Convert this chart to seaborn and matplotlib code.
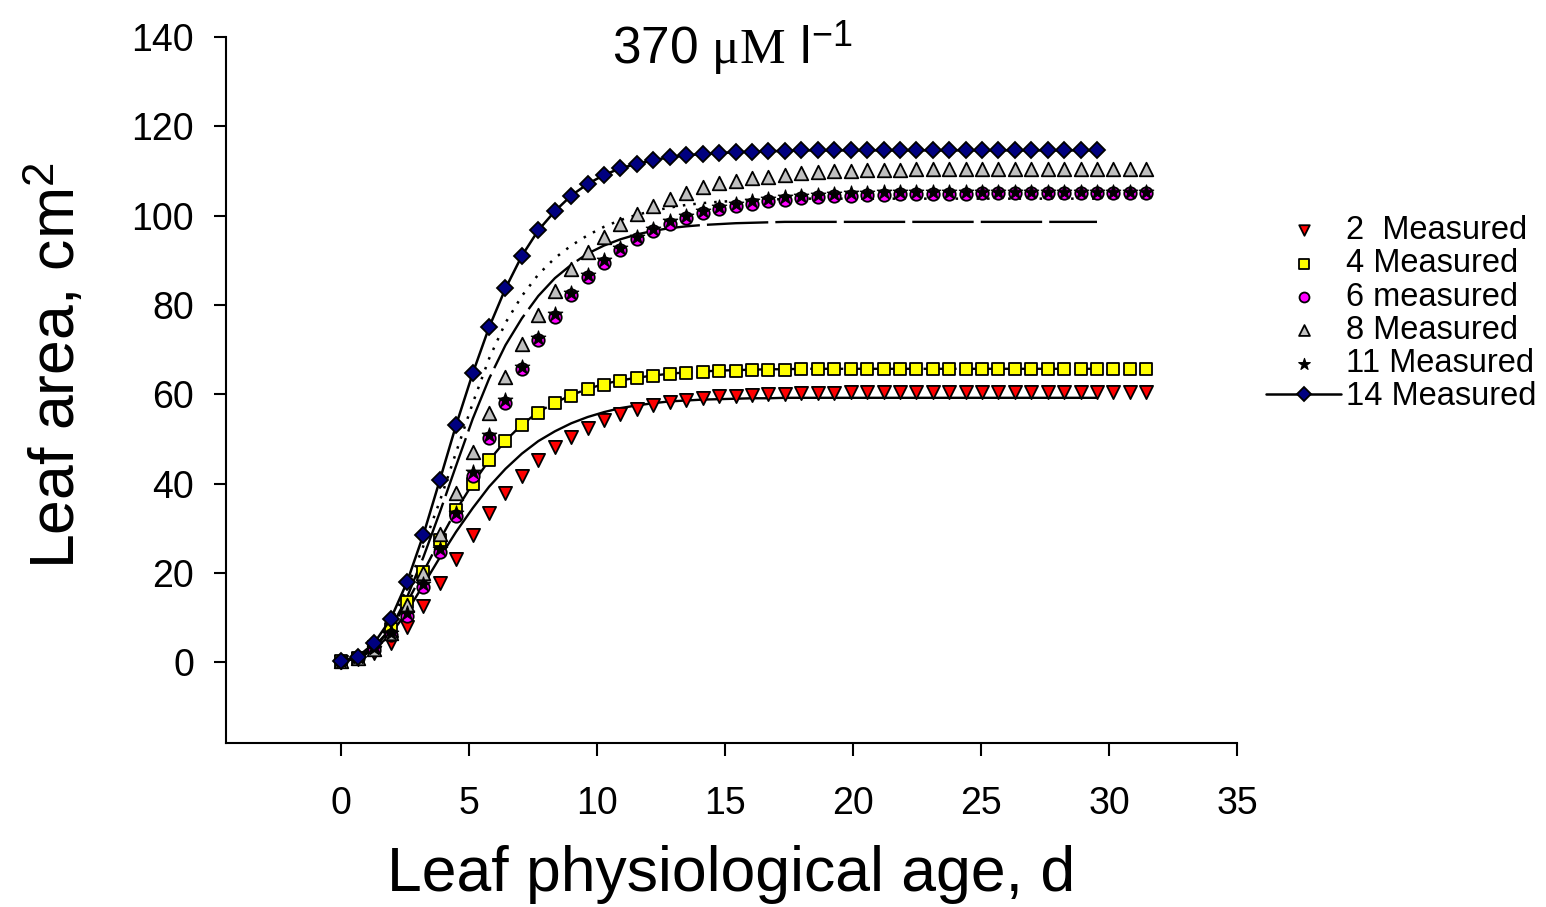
import matplotlib
matplotlib.use("Agg")
import matplotlib.pyplot as plt
import seaborn as sns

# ---------------- data ----------------
age = [0.00, 0.64, 1.28, 1.93, 2.57, 3.21, 3.85, 4.49, 5.14, 5.78,
       6.42, 7.06, 7.70, 8.35, 8.99, 9.63, 10.27, 10.91, 11.56, 12.20,
       12.84, 13.48, 14.12, 14.77, 15.41, 16.05, 16.69, 17.33, 17.98, 18.62,
       19.26, 19.90, 20.54, 21.19, 21.83, 22.47, 23.11, 23.75, 24.40, 25.04,
       25.68, 26.32, 26.96, 27.61, 28.25, 28.89, 29.53, 30.17, 30.82, 31.46]

m2 = [0.1, 0.6, 2.0, 4.4, 7.9, 12.6, 17.8, 23.2, 28.4, 33.4,
      37.8, 41.8, 45.2, 48.1, 50.5, 52.5, 54.2, 55.6, 56.7, 57.6,
      58.3, 58.8, 59.2, 59.5, 59.7, 59.9, 60.0, 60.1, 60.2, 60.3,
      60.3, 60.4, 60.4, 60.4, 60.5, 60.5, 60.5, 60.5, 60.5, 60.5,
      60.5, 60.5, 60.5, 60.5, 60.5, 60.5, 60.5, 60.5, 60.5, 60.5]

m4 = [0.2, 1.0, 3.3, 7.4, 13.4, 20.2, 27.3, 34.0, 40.0, 45.3,
      49.5, 53.1, 55.8, 58.0, 59.7, 61.1, 62.1, 63.0, 63.6, 64.1,
      64.5, 64.8, 65.0, 65.2, 65.3, 65.4, 65.5, 65.5, 65.6, 65.6,
      65.6, 65.7, 65.7, 65.7, 65.7, 65.7, 65.7, 65.7, 65.7, 65.7,
      65.7, 65.7, 65.7, 65.7, 65.7, 65.7, 65.7, 65.7, 65.7, 65.7]

m6 = [0.2, 0.9, 2.8, 6.0, 10.4, 16.9, 24.6, 32.7, 41.8, 50.2,
      58.1, 65.6, 72.1, 77.4, 82.2, 86.3, 89.5, 92.3, 94.7, 96.6,
      98.2, 99.4, 100.5, 101.4, 102.1, 102.7, 103.2, 103.6, 103.9, 104.2,
      104.4, 104.5, 104.6, 104.7, 104.8, 104.8, 104.9, 104.9, 104.9, 105.0,
      105.0, 105.0, 105.0, 105.0, 105.0, 105.0, 105.0, 105.0, 105.0, 105.0]

m8 = [0.2, 0.9, 3.0, 6.6, 12.9, 19.9, 28.8, 37.8, 47.0, 55.7,
      63.9, 71.2, 77.7, 83.2, 88.1, 91.9, 95.3, 98.1, 100.4, 102.2,
      103.7, 105.1, 106.3, 107.2, 107.8, 108.4, 108.7, 109.1, 109.5, 109.7,
      109.9, 110.1, 110.2, 110.3, 110.3, 110.4, 110.4, 110.4, 110.4, 110.4,
      110.4, 110.4, 110.4, 110.4, 110.4, 110.4, 110.4, 110.4, 110.4, 110.4]

m11 = [0.3, 1.1, 3.2, 6.6, 11.0, 17.5, 25.3, 33.4, 42.5, 50.9,
       58.8, 66.2, 72.6, 77.9, 82.7, 86.8, 90.0, 92.8, 95.2, 97.1,
       98.7, 99.9, 101.0, 101.9, 102.6, 103.2, 103.7, 104.1, 104.4, 104.7,
       104.9, 105.0, 105.1, 105.2, 105.3, 105.3, 105.4, 105.4, 105.4, 105.4,
       105.4, 105.4, 105.4, 105.4, 105.4, 105.4, 105.4, 105.4, 105.4, 105.4]

m14 = [0.2, 1.2, 4.2, 9.6, 17.9, 28.5, 40.7, 53.1, 64.7, 75.0,
       83.7, 91.0, 96.7, 101.0, 104.5, 107.1, 109.1, 110.6, 111.6, 112.4,
       113.1, 113.5, 113.8, 114.0, 114.2, 114.3, 114.4, 114.5, 114.6, 114.6,
       114.6, 114.6, 114.6, 114.6, 114.6, 114.6, 114.6, 114.6, 114.6, 114.6,
       114.6, 114.6, 114.6, 114.6, 114.6, 114.6, 114.6]

# fitted curves (drawn to day 29.5)
fit_a = [0.2, 0.8, 2.8, 6.2, 11.3, 17.3, 23.4, 29.2, 34.5, 39.3,
         43.3, 46.7, 49.5, 51.7, 53.5, 54.9, 56.0, 56.9, 57.5, 58.0,
         58.4, 58.6, 58.8, 58.9, 59.0, 59.1, 59.1, 59.2, 59.2, 59.2,
         59.2, 59.2, 59.2, 59.2, 59.2, 59.2, 59.2, 59.2, 59.2, 59.2,
         59.2, 59.2, 59.2, 59.2, 59.2, 59.2, 59.2]
fit_b = [0.2, 1.0, 3.4, 7.5, 13.3, 20.2, 27.3, 34.0, 40.0, 45.2,
         49.6, 53.2, 56.0, 58.1, 59.8, 61.2, 62.3, 63.1, 63.7, 64.2,
         64.6, 64.9, 65.1, 65.3, 65.4, 65.5, 65.6, 65.6, 65.7, 65.7,
         65.7, 65.7, 65.7, 65.7, 65.7, 65.7, 65.7, 65.7, 65.7, 65.7,
         65.7, 65.7, 65.7, 65.7, 65.7, 65.7, 65.7]
fit_c = [0.2, 0.9, 3.0, 7.5, 14.5, 23.5, 33.5, 44.0, 54.5, 63.5,
         71.0, 77.0, 82.0, 86.0, 89.0, 91.5, 93.3, 94.7, 95.8, 96.6,
         97.2, 97.6, 97.9, 98.1, 98.3, 98.4, 98.5, 98.6, 98.6, 98.6,
         98.6, 98.6, 98.6, 98.6, 98.6, 98.6, 98.6, 98.6, 98.6, 98.6,
         98.6, 98.6, 98.6, 98.6, 98.6, 98.6, 98.6]
fit_d = [0.2, 1.0, 3.8, 8.8, 16.5, 26.0, 36.0, 47.0, 58.0, 68.0,
         76.0, 82.0, 86.8, 90.5, 93.3, 95.6, 97.5, 99.0, 100.2, 101.1,
         101.8, 102.4, 102.8, 103.1, 103.3, 103.5, 103.6, 103.7, 103.8, 103.8,
         103.8, 103.8, 103.8, 103.8, 103.8, 103.8, 103.8, 103.8, 103.8, 103.8,
         103.8, 103.8, 103.8, 103.8, 103.8, 103.8, 103.8]

labels = ["2  Measured", "4 Measured", "6 measured", "8 Measured",
          "11 Measured", "14 Measured"]
xticks = [0, 5, 10, 15, 20, 25, 30, 35]
yticks = [0, 20, 40, 60, 80, 100, 120, 140]

# ---------------- style ----------------
sns.set_theme(style="white")
plt.rcParams["font.family"] = ["Liberation Sans", "DejaVu Sans"]
plt.rcParams["mathtext.fontset"] = "custom"
plt.rcParams["mathtext.rm"] = "Liberation Serif"
plt.rcParams["mathtext.it"] = "Liberation Serif:italic"
plt.rcParams["mathtext.sf"] = "Liberation Sans"

W, H = 1546, 907
fig = plt.figure(figsize=(W / 100, H / 100), dpi=100)
ax = fig.add_axes([226 / W, 1 - 743 / H, (1237 - 226) / W, (743 - 37) / H])

n = len(m14)
x_fit = age[:n]

# fitted curves
sns.lineplot(x=x_fit, y=fit_a, ax=ax, color="black", linewidth=1.7,
             sort=False, errorbar=None, label="_nolegend_", zorder=2)
sns.lineplot(x=x_fit, y=fit_b, ax=ax, color="black", linewidth=1.7,
             linestyle=(0, (14, 2)), sort=False, errorbar=None,
             label="_nolegend_", zorder=2)
sns.lineplot(x=x_fit, y=fit_c, ax=ax, color="black", linewidth=1.7,
             linestyle=(0, (26, 3)), sort=False, errorbar=None,
             label="_nolegend_", zorder=2)
sns.lineplot(x=x_fit, y=fit_d, ax=ax, color="black", linewidth=1.8,
             linestyle=(0, (1, 3.2)), sort=False, errorbar=None,
             label="_nolegend_", zorder=2)

# measured points
ew = 1.3
sns.scatterplot(x=age, y=m2, ax=ax, marker="v", s=90, color="#FF0000",
                edgecolor="black", linewidth=ew, label=labels[0], zorder=3)
sns.scatterplot(x=age, y=m4, ax=ax, marker="s", s=72, color="#FFFF00",
                edgecolor="black", linewidth=ew, label=labels[1], zorder=3)
sns.scatterplot(x=age, y=m6, ax=ax, marker="o", s=80, color="#FF00FF",
                edgecolor="black", linewidth=ew, label=labels[2], zorder=3)
sns.scatterplot(x=age, y=m8, ax=ax, marker="^", s=95, color="#C0C0C0",
                edgecolor="black", linewidth=ew, label=labels[3], zorder=3)
sns.scatterplot(x=age, y=m11, ax=ax, marker="*", s=120, color="black",
                edgecolor="black", linewidth=0.8, label=labels[4], zorder=3)
sns.lineplot(x=x_fit, y=m14, ax=ax, color="black", linewidth=1.8,
             marker="D", markersize=8.5, markerfacecolor="#000080",
             markeredgecolor="black", markeredgewidth=ew,
             sort=False, errorbar=None, label=labels[5], zorder=4)

# axes
ax.set_xlim(-4.5, 35)
ax.set_ylim(-18.1, 140)
ax.set_xticks(xticks)
ax.set_yticks(yticks)
ax.tick_params(axis="both", direction="out", length=9, width=1.5,
               labelsize=27, color="black", labelcolor="black",
               bottom=True, left=True)
ax.tick_params(axis="x", pad=22)
ax.tick_params(axis="y", pad=14)
for side in ["top", "right"]:
    ax.spines[side].set_visible(False)
for side in ["left", "bottom"]:
    ax.spines[side].set_color("black")
    ax.spines[side].set_linewidth(1.5)
ax.grid(False)

ax.set_xlabel("Leaf physiological age, d", fontsize=45, color="black")
ax.set_ylabel(r"Leaf area, cm$^{\mathsf{2}}$", fontsize=45, color="black")
ax.xaxis.set_label_coords(0.5, -0.145)
ax.yaxis.set_label_coords(-0.137, 0.535)

fig.text(732 / W, 1 - 63 / H, r"370 $\mathrm{\mu M}$ l$^{\mathsf{-1}}$",
         fontsize=37, ha="center", va="baseline", color="black")

leg = ax.legend(loc="upper left", bbox_to_anchor=(1266 / W, 1 - 215 / H),
                bbox_transform=fig.transFigure, frameon=False, fontsize=23.5,
                handlelength=2.3, handletextpad=0.15, labelspacing=0.07,
                borderpad=0, borderaxespad=0, markerscale=0.8)
for t in leg.get_texts():
    t.set_color("black")

fig.savefig("out.png", dpi=100, facecolor="white")
